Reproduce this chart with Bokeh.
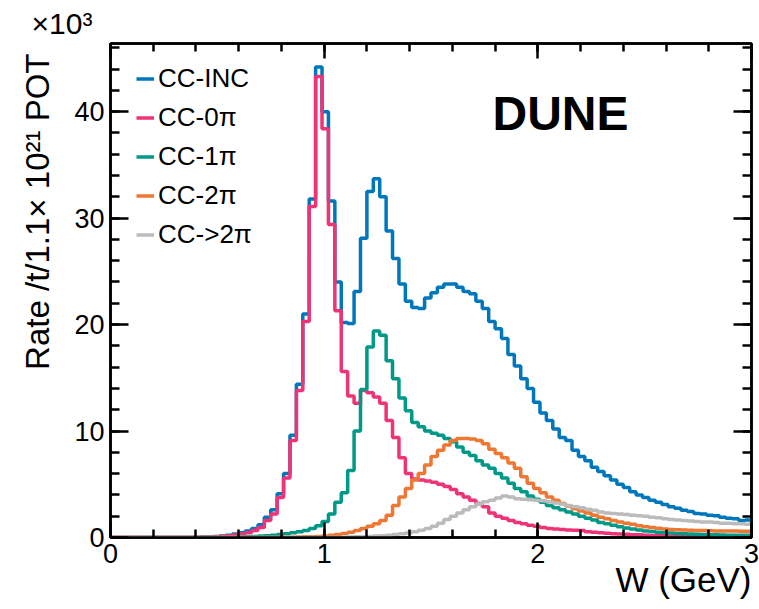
import numpy as np
from bokeh.plotting import figure
from bokeh.models import Range1d, LinearAxis, FixedTicker, Label, Legend, LegendItem, Title
from bokeh.embed import file_html
from bokeh.resources import INLINE

# Histogram binning (W in GeV)
W_MIN, W_MAX, N_BINS = 0.0, 3.0, 100
edges = np.linspace(W_MIN, W_MAX, N_BINS + 1)

# Rates (x10^3) per bin
cc_inc = [0, 0, 0, 0, 0, 0, 0, 0, 0, 0, 0, 0, 0, 0.02, 0.04, 0.06, 0.1, 0.15, 0.22, 0.32,
          0.45, 0.6, 0.85, 1.2, 1.9, 2.6, 4.1, 6.0, 9.6, 14.4, 21.0, 31.8, 44.2, 40.0, 31.6, 24.0, 20.2, 20.1, 23.1, 28.1,
          32.5, 33.7, 32.0, 28.8, 26.2, 23.8, 22.2, 21.6, 21.5, 22.5, 23.0, 23.5, 23.8, 23.8, 23.5, 23.1, 22.9, 22.2, 21.5, 20.3,
          19.6, 18.7, 17.2, 16.1, 14.9, 14.0, 12.7, 11.7, 11.0, 10.2, 9.4, 9.1, 8.2, 7.6, 7.2, 6.6, 6.2, 5.8, 5.4, 5.0,
          4.7, 4.3, 4.0, 3.75, 3.5, 3.3, 3.1, 2.9, 2.75, 2.55, 2.45, 2.25, 2.2, 2.1, 2.05, 1.9, 1.8, 1.75, 1.6, 1.65]

cc_0pi = [0, 0, 0, 0, 0, 0, 0, 0, 0, 0, 0, 0, 0, 0.01, 0.03, 0.05, 0.08, 0.12, 0.17, 0.24,
          0.33, 0.45, 0.65, 0.95, 1.6, 2.2, 3.75, 5.6, 9.1, 13.8, 20.3, 31.1, 43.3, 38.4, 29.4, 21.3, 15.6, 13.3, 12.6, 13.8,
          13.6, 13.2, 12.6, 11.0, 9.4, 7.5, 6.0, 5.5, 5.4, 5.3, 5.2, 5.0, 4.8, 4.5, 4.1, 3.8, 3.5, 3.2, 2.9, 2.3,
          2.0, 1.8, 1.6, 1.4, 1.3, 1.15, 1.05, 0.95, 0.85, 0.8, 0.75, 0.7, 0.68, 0.65, 0.55, 0.5, 0.45, 0.4, 0.35, 0.32,
          0.3, 0.27, 0.25, 0.2, 0.18, 0.17, 0.16, 0.15, 0.14, 0.13, 0.12, 0.11, 0.1, 0.09, 0.08, 0.08, 0.07, 0.07, 0.06, 0.06]

cc_1pi = [0, 0, 0, 0, 0, 0, 0, 0, 0, 0, 0, 0, 0, 0, 0, 0, 0, 0, 0, 0,
          0.05, 0.08, 0.1, 0.13, 0.17, 0.22, 0.28, 0.35, 0.45, 0.55, 0.65, 0.85, 1.1, 1.5, 2.2, 3.3, 4.2, 6.3, 10.0, 13.9,
          17.9, 19.4, 19.0, 16.6, 14.9, 13.1, 11.9, 10.8, 10.4, 10.0, 9.8, 9.6, 9.3, 9.0, 8.5, 8.0, 7.7, 7.2, 6.8, 6.5,
          6.0, 5.6, 5.1, 4.6, 4.3, 3.9, 3.6, 3.3, 3.0, 2.8, 2.6, 2.4, 2.2, 2.0, 1.8, 1.65, 1.4, 1.3, 1.15, 1.0,
          0.9, 0.8, 0.7, 0.62, 0.56, 0.5, 0.45, 0.42, 0.38, 0.35, 0.32, 0.3, 0.28, 0.26, 0.25, 0.24, 0.22, 0.21, 0.2, 0.2]

cc_2pi = [0, 0, 0, 0, 0, 0, 0, 0, 0, 0, 0, 0, 0, 0, 0, 0, 0, 0, 0, 0,
          0, 0, 0, 0, 0, 0, 0, 0, 0.02, 0.04, 0.06, 0.08, 0.1, 0.15, 0.2, 0.28, 0.38, 0.5, 0.65, 0.85,
          1.05, 1.3, 1.6, 2.1, 3.0, 3.8, 4.6, 5.4, 6.0, 6.8, 7.6, 8.2, 8.7, 9.1, 9.3, 9.3, 9.25, 9.1, 8.8, 8.3,
          7.9, 7.5, 7.0, 6.5, 5.7, 5.1, 4.6, 4.2, 3.8, 3.5, 3.2, 2.95, 2.7, 2.5, 2.3, 2.1, 1.9, 1.75, 1.6, 1.45,
          1.35, 1.25, 1.1, 1.0, 0.95, 0.88, 0.8, 0.76, 0.72, 0.7, 0.68, 0.66, 0.65, 0.64, 0.62, 0.62, 0.6, 0.6, 0.58, 0.58]

cc_gt2pi = [0, 0, 0, 0, 0, 0, 0, 0, 0, 0, 0, 0, 0, 0, 0, 0, 0, 0, 0, 0,
            0, 0, 0, 0, 0, 0, 0, 0, 0, 0, 0, 0, 0, 0, 0, 0, 0.02, 0.04, 0.06, 0.08,
            0.1, 0.13, 0.17, 0.22, 0.28, 0.35, 0.42, 0.55, 0.68, 0.85, 1.05, 1.35, 1.7, 2.0, 2.3, 2.6, 2.9, 3.15, 3.35, 3.5,
            3.7, 3.9, 3.8, 3.65, 3.6, 3.55, 3.5, 3.45, 3.35, 3.25, 3.15, 3.0, 2.9, 2.8, 2.65, 2.55, 2.4, 2.3, 2.25, 2.2,
            2.15, 2.1, 2.05, 2.0, 1.9, 1.85, 1.75, 1.7, 1.65, 1.6, 1.55, 1.5, 1.45, 1.45, 1.4, 1.35, 1.35, 1.3, 1.3, 1.25]

series_names = ["CC-INC", "CC-0\u03c0", "CC-1\u03c0", "CC-2\u03c0", "CC->2\u03c0"]
series_values = [cc_inc, cc_0pi, cc_1pi, cc_2pi, cc_gt2pi]
series_colors = ["#0077BB", "#EE3377", "#009988", "#EE7733", "#BBBBBB"]

x_major = [0, 1, 2, 3]
x_minor = [round(0.2 * i, 2) for i in range(16)]
y_major = [0, 10, 20, 30, 40]
y_minor = [2 * i for i in range(24)]

FONT = "Liberation Sans"

p = figure(width=759, height=609, output_backend="svg", toolbar_location=None,
           x_range=Range1d(0, 3), y_range=Range1d(0, 46.4),
           x_axis_location=None, y_axis_location=None,
           min_border_left=109, min_border_right=8, min_border_top=42, min_border_bottom=72)
p.grid.visible = False
p.outline_line_color = "black"
p.outline_line_width = 2.5
p.background_fill_color = "white"
p.border_fill_color = "white"

# "x10^3" exponent shown at the top-left, outside the frame
p.title.text = "\u00d710\u00b3"
p.title.align = "left"
p.title.offset = -79
p.title.standoff = 8
p.title.vertical_align = "bottom"
p.title.text_font = FONT
p.title.text_font_size = "30px"
p.title.text_font_style = "normal"
p.title.text_color = "black"


def make_axis(ticks, minor, mj_len, mn_len, show_labels):
    ax = LinearAxis(ticker=FixedTicker(ticks=ticks, minor_ticks=minor))
    ax.axis_line_width = 2.5
    ax.axis_line_color = "black"
    ax.major_tick_in = mj_len
    ax.major_tick_out = 0
    ax.minor_tick_in = mn_len
    ax.minor_tick_out = 0
    ax.major_tick_line_width = 2.5
    ax.minor_tick_line_width = 2.5
    if show_labels:
        ax.major_label_text_font = FONT
        ax.major_label_text_font_size = "27px"
        ax.major_label_text_color = "black"
        ax.major_label_standoff = 6
    else:
        ax.major_label_text_font_size = "0px"
        ax.major_label_text_color = None
        ax.major_label_standoff = 0
    return ax


p.add_layout(make_axis(x_major, x_minor, 15, 8, True), "below")
p.add_layout(make_axis(y_major, y_minor, 18, 9, True), "left")
p.add_layout(make_axis(x_major, x_minor, 15, 8, False), "above")
p.add_layout(make_axis(y_major, y_minor, 18, 9, False), "right")

# axis titles, aligned to the axis ends as in the reference
p.add_layout(Title(text="W (GeV)", align="right", offset=0, standoff=-12, vertical_align="top",
                   text_font=FONT, text_font_size="35px", text_font_style="normal",
                   text_color="black"), "below")
p.add_layout(Title(text="Rate /t/1.1\u00d7 10\u00b2\u00b9 POT", align="right", offset=10, standoff=32,
                   vertical_align="bottom", text_font=FONT, text_font_size="33px",
                   text_font_style="normal", text_color="black"), "left")

items = []
for name, vals, col in zip(series_names, series_values, series_colors):
    yy = list(vals) + [vals[-1]]
    r = p.step(x=edges, y=yy, mode="after", line_width=3.5, line_color=col)
    items.append(LegendItem(label=name, renderers=[r]))

legend = Legend(items=items, location=(26, 285))
legend.padding = 0
legend.margin = 0
legend.spacing = 4
legend.label_height = 35
legend.glyph_height = 35
legend.glyph_width = 18
legend.label_standoff = 4
legend.label_text_font = FONT
legend.label_text_font_size = "26px"
legend.label_text_color = "black"
legend.background_fill_alpha = 0
legend.border_line_color = None
p.add_layout(legend)

p.add_layout(Label(x=382, y=424, x_units="screen", y_units="screen",
                   text="DUNE", text_align="left", text_baseline="middle",
                   text_font=FONT, text_font_size="48px", text_font_style="bold",
                   text_color="black"))

open("out.html", "w").write(file_html(p, INLINE))
